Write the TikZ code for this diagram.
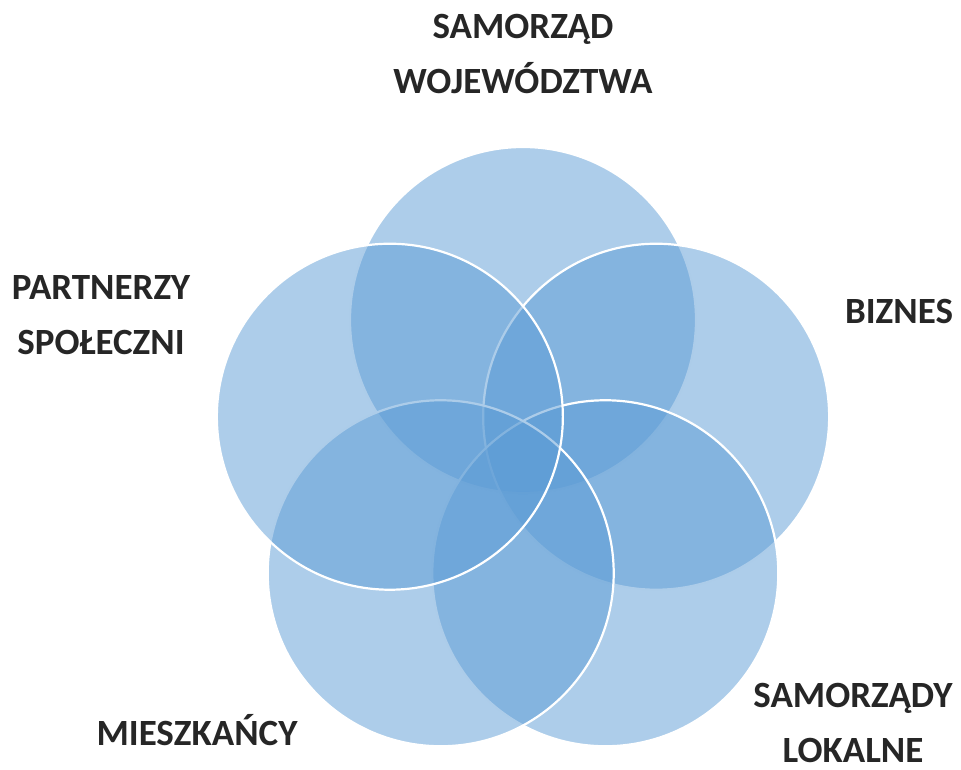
\documentclass[tikz,border=0pt]{standalone}
\usepackage{fontspec}
\setmainfont{Carlito}
\definecolor{ringblue}{HTML}{5B9BD5}
\definecolor{labelgray}{HTML}{262626}
\tikzset{
	ring/.style={fill=ringblue, fill opacity=0.5, draw=white, line width=2.2pt},
	label/.style={text=labelgray, font=\fontsize{37}{55}\selectfont\bfseries, align=center, inner sep=0pt}
}
\begin{document}
\begin{tikzpicture}[x=1pt, y=1pt]
	\useasboundingbox (0, 0) rectangle (961, 770);
	%\draw[help lines, step=50] (0,0) grid (961,770);
	
	% five rings round the centre, clockwise from the top
	\foreach \a in {90, 18, -54, -126, -198}
		\draw[ring] ({523+140*cos(\a)}, {310+140*sin(\a)}) circle (173);
	
	\node [label] (woj) at (523, 716) {SAMORZĄD\\WOJEWÓDZTWA};
	\node [label] (biz) at (899, 458) {BIZNES};
	\node [label] (lok) at (853, 47) {SAMORZĄDY\\LOKALNE};
	\node [label] (mie) at (197, 40) {MIESZKAŃCY};
	\node [label] (spo) at (101, 455) {PARTNERZY\\SPOŁECZNI};
\end{tikzpicture}
\end{document}
